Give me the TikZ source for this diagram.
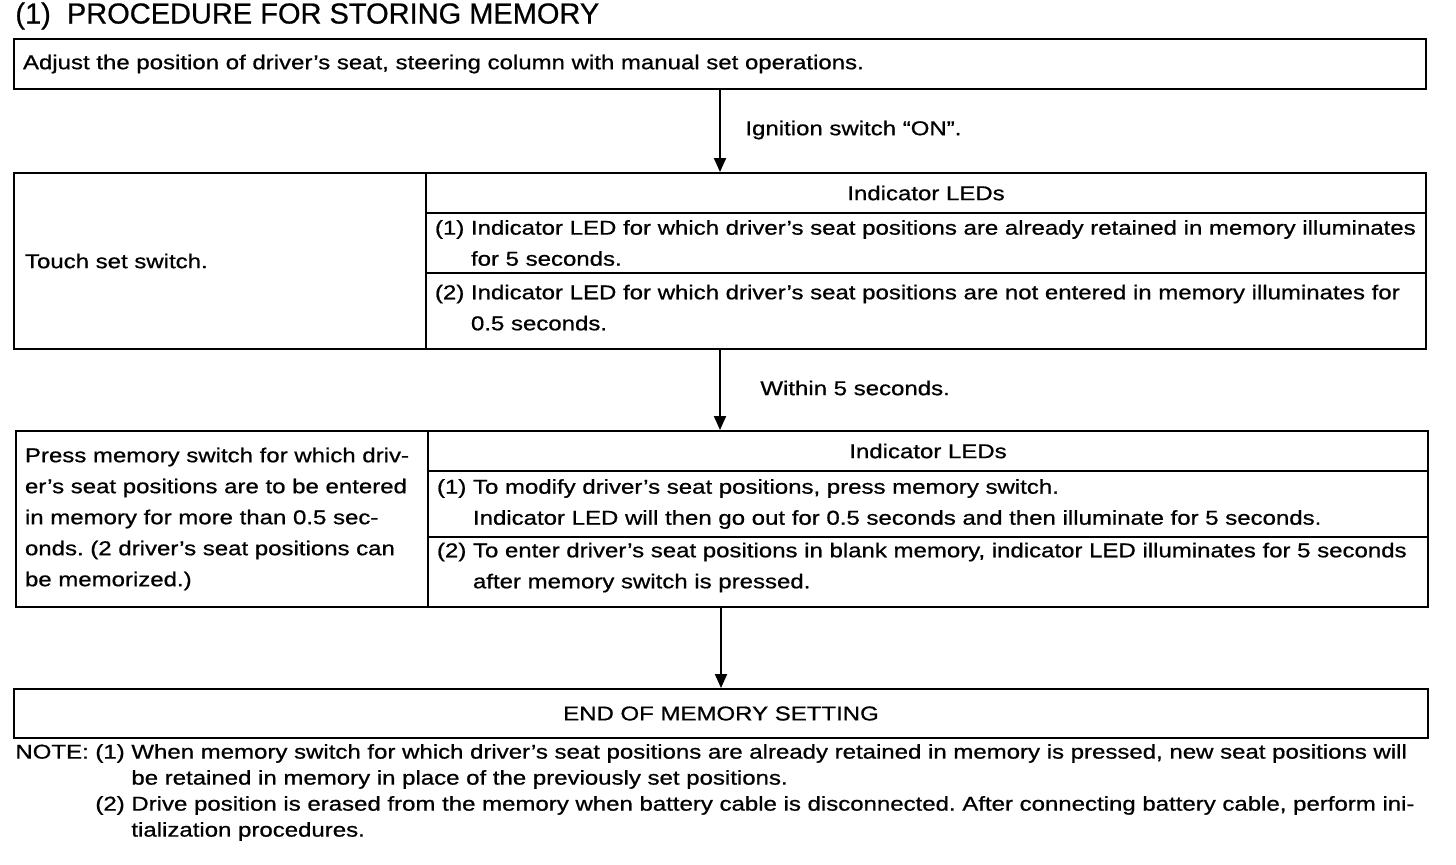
\documentclass[tikz,border=0pt]{standalone}
\usepackage{fontspec}
\setmainfont{Liberation Sans}[FakeBold=0.6]
\newfontfamily\bodyfont[FakeStretch=1.2, FakeBold=0.8]{Liberation Sans}
\usetikzlibrary{arrows.meta}
\frenchspacing

\tikzset{
  cell/.style={draw, line width=1pt, anchor=north west, inner xsep=4.5pt, inner ysep=0pt,
    align=left, font={\bodyfont\fontsize{10}{15.5}\selectfont}},
  headcell/.style={cell, align=center},
  flow/.style={line width=1pt, -{Triangle[width=6pt,length=7pt]}},
  flowlabel/.style={anchor=west, inner sep=0pt, font={\bodyfont\fontsize{10}{12}\selectfont}},
}
\newcommand{\hang}{\hphantom{(1)~}}

\begin{document}
\begin{tikzpicture}[x=0.5pt, y=-0.5pt]
    \useasboundingbox (0,0) rectangle (1456,864);
    \node[anchor=west, inner sep=0pt, font={\fontsize{14.5}{16}\selectfont}] (title) at (15,16)
        {(1)\ \ PROCEDURE FOR STORING MEMORY};

    % manual set
    \node[cell, text width=697pt, minimum height=25pt] (adjust) at (13,38)
        {Adjust the position of driver’s seat, steering column with manual set operations.};

    % set switch
    \node[cell, inner xsep=5.5pt, text width=195pt, minimum height=88pt] (touch) at (13,172) {Touch set switch.};
    \node[headcell, text width=491pt, minimum height=20pt] (ledA) at (425,172) {Indicator LEDs};
    \node[cell, text width=491pt, minimum height=30pt] (ledA1) at (425,212)
        {(1) Indicator LED for which driver’s seat positions are already retained in memory illuminates\\\hang for 5 seconds.};
    \node[cell, text width=491pt, minimum height=38pt, text depth=19pt] (ledA2) at (425,272)
        {(2) Indicator LED for which driver’s seat positions are not entered in memory illuminates for\\\hang 0.5 seconds.};

    % memory switch
    \node[cell, text width=197pt, minimum height=88pt] (press) at (15,430)
        {Press memory switch for which driv-\\er’s seat positions are to be entered\\in memory for more than 0.5 sec-\\onds. (2 driver’s seat positions can\\be memorized.)};
    \node[headcell, text width=491pt, minimum height=20pt] (ledB) at (427,430) {Indicator LEDs};
    \node[cell, text width=491pt, minimum height=33pt] (ledB1) at (427,470)
        {(1) To modify driver’s seat positions, press memory switch.\\\hang Indicator LED will then go out for 0.5 seconds and then illuminate for 5 seconds.};
    \node[cell, text width=491pt, minimum height=35pt, text depth=22pt] (ledB2) at (427,536)
        {(2) To enter driver’s seat positions in blank memory, indicator LED illuminates for 5 seconds\\\hang after memory switch is pressed.};

    \node[headcell, text width=698pt, minimum height=24.5pt] (done) at (13,688) {END OF MEMORY SETTING};

    \node[anchor=north west, inner sep=0pt, font={\bodyfont\fontsize{10}{13}\selectfont}] (note) at (15,740)
        {\begin{tabular}{@{}l@{\ }l@{\ }l@{}}
        NOTE: & (1) & When memory switch for which driver’s seat positions are already retained in memory is pressed, new seat positions will\\
              &     & be retained in memory in place of the previously set positions.\\
              & (2) & Drive position is erased from the memory when battery cable is disconnected. After connecting battery cable, perform ini-\\
              &     & tialization procedures.
        \end{tabular}};

    % arrows
    \draw[flow] (adjust.south) -- (adjust.south |- ledA.north);
    \node[flowlabel] (ign) at (745,130) {Ignition switch “ON”.};
    \draw[flow] (adjust.south |- ledA2.south) -- (adjust.south |- ledB.north);
    \node[flowlabel] (wait) at (760,388) {Within 5 seconds.};
    \draw[flow] (done.north |- ledB2.south) -- (done.north);
\end{tikzpicture}
\end{document}
